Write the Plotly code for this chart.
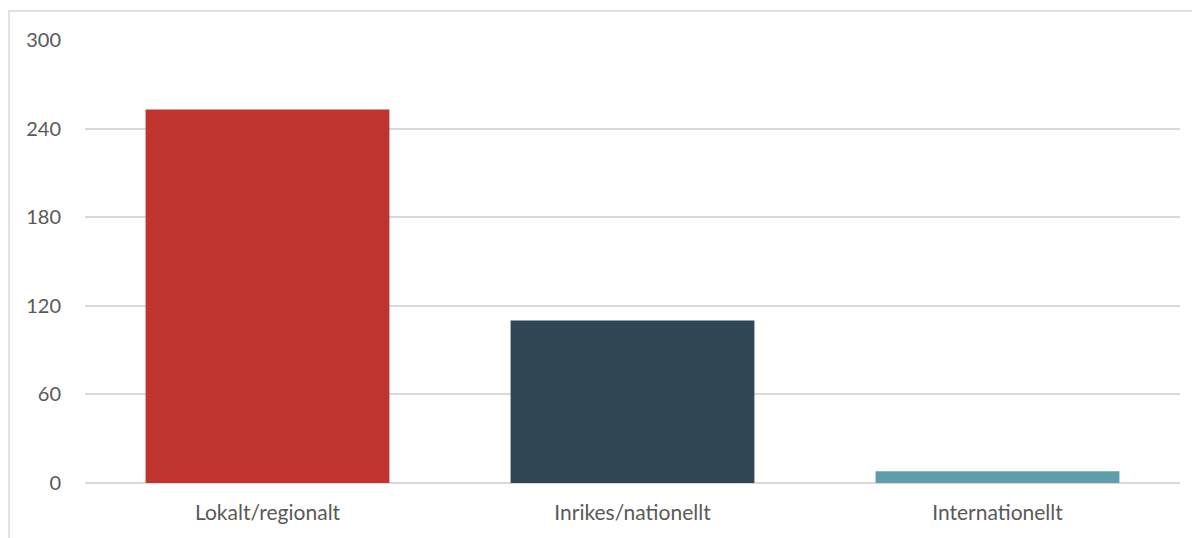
import plotly.graph_objects as go

categories = ["Lokalt/regionalt", "Inrikes/nationellt", "Internationellt"]
values = [253, 110, 8]
colors = ["#C0342F", "#2F4654", "#5F9EA8"]
tick_vals = [0, 60, 120, 180, 240, 300]

fig = go.Figure(go.Bar(x=categories, y=values, marker=dict(color=colors, line=dict(width=0)), width=0.668))

# page coords of plot area (page body has 8px margin)
OFF = 8
W, H = 1200 - OFF, 538 - OFF
L, T = 85 - OFF, 40 - OFF
R = W - (1180 - OFF)
B = H - (483 - OFF)
pw, ph = W - L - R, H - T - B

def px_x(x):
    return (x - OFF - L) / pw

def px_y(y):
    return (H - B - (y - OFF)) / ph

fig.add_shape(type="rect", xref="paper", yref="paper",
              x0=px_x(9), x1=px_x(1215), y0=px_y(560), y1=px_y(11),
              line=dict(color="#D9D9D9", width=1.5), fillcolor="rgba(0,0,0,0)", layer="below")

fig.update_layout(
    width=W, height=H,
    margin=dict(l=L, r=R, t=T, b=B, pad=0),
    plot_bgcolor="white", paper_bgcolor="white",
    font=dict(family="Lato, Open Sans, sans-serif", size=20, color="#595959"),
    showlegend=False,
    xaxis=dict(showgrid=False, showline=False, ticks="", ticklabelstandoff=15,
               tickfont=dict(size=21, color="#595959")),
    yaxis=dict(range=[0, 300], tickvals=tick_vals, showgrid=True, gridcolor="#D9D9D9",
               gridwidth=1.5, zeroline=True, zerolinecolor="#D9D9D9", zerolinewidth=1.5,
               showline=False, ticks="", ticklabelstandoff=23,
               tickfont=dict(size=20, color="#595959")),
)

fig.write_html("out.html")
